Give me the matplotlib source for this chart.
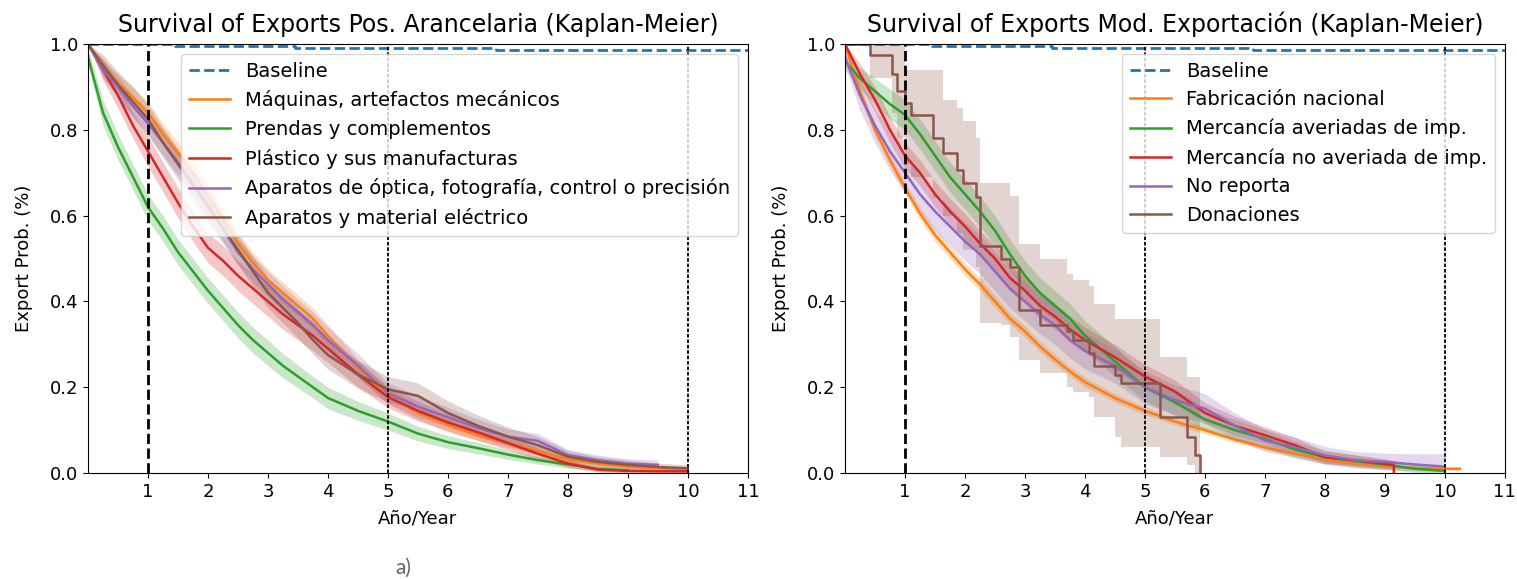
import matplotlib
matplotlib.use('Agg')
import matplotlib.pyplot as plt

# Años (rejilla común)
anios = [0, 0.25, 0.5, 0.75, 1, 1.25, 1.5, 1.75, 2, 2.25, 2.5, 2.75, 3, 3.25, 3.5,
         3.75, 4, 4.5, 5, 5.5, 6, 6.5, 7, 7.5, 8, 8.5, 9, 9.5, 10, 10.25]

# Baseline (igual en ambos paneles)
base_t = [0, 1.45, 3.45, 6.8, 11]
base_s = [1.0, 0.996, 0.991, 0.987, 0.983]

# ---- Panel izquierdo: posición arancelaria ----
maquinas = [1.0, 0.95, 0.91, 0.875, 0.84, 0.79, 0.745, 0.70, 0.645, 0.59, 0.535, 0.49, 0.45, 0.42, 0.39,
            0.36, 0.32, 0.245, 0.18, 0.14, 0.112, 0.088, 0.07, 0.052, 0.032, 0.022, 0.015, 0.011, 0.006]
maquinas_lo = [1.0, 0.935, 0.89, 0.85, 0.815, 0.765, 0.72, 0.675, 0.62, 0.565, 0.51, 0.465, 0.425, 0.395, 0.365,
               0.335, 0.295, 0.225, 0.162, 0.124, 0.098, 0.076, 0.059, 0.042, 0.024, 0.015, 0.009, 0.006, 0.002]
maquinas_hi = [1.0, 0.965, 0.93, 0.90, 0.865, 0.815, 0.77, 0.725, 0.67, 0.615, 0.56, 0.515, 0.475, 0.445, 0.415,
               0.385, 0.345, 0.265, 0.198, 0.156, 0.126, 0.1, 0.081, 0.062, 0.04, 0.029, 0.021, 0.016, 0.01]

prendas = [0.97, 0.84, 0.76, 0.69, 0.62, 0.57, 0.515, 0.47, 0.425, 0.385, 0.345, 0.31, 0.28, 0.25, 0.225,
           0.20, 0.175, 0.145, 0.12, 0.092, 0.072, 0.058, 0.043, 0.03, 0.02, 0.01, 0.006]
prendas_lo = [0.95, 0.81, 0.73, 0.66, 0.59, 0.54, 0.485, 0.44, 0.395, 0.355, 0.315, 0.28, 0.25, 0.222, 0.198,
              0.175, 0.15, 0.123, 0.1, 0.075, 0.057, 0.045, 0.032, 0.021, 0.012, 0.004, 0.001]
prendas_hi = [0.99, 0.87, 0.79, 0.72, 0.65, 0.60, 0.545, 0.50, 0.455, 0.415, 0.375, 0.34, 0.31, 0.278, 0.252,
              0.225, 0.2, 0.167, 0.14, 0.109, 0.087, 0.071, 0.054, 0.039, 0.028, 0.016, 0.011]

plastico = [1.0, 0.94, 0.88, 0.81, 0.75, 0.69, 0.63, 0.575, 0.525, 0.495, 0.46, 0.43, 0.40, 0.37, 0.345,
            0.32, 0.29, 0.23, 0.177, 0.145, 0.118, 0.095, 0.07, 0.045, 0.022, 0.008, 0.005, 0.004, 0.004]
plastico_lo = [1.0, 0.915, 0.85, 0.78, 0.715, 0.655, 0.595, 0.54, 0.49, 0.46, 0.425, 0.395, 0.365, 0.335, 0.31,
               0.285, 0.258, 0.2, 0.152, 0.122, 0.097, 0.076, 0.054, 0.032, 0.013, 0.003, 0.001, 0.0, 0.0]
plastico_hi = [1.0, 0.965, 0.91, 0.84, 0.785, 0.725, 0.665, 0.61, 0.56, 0.53, 0.495, 0.465, 0.435, 0.405, 0.38,
               0.355, 0.322, 0.26, 0.202, 0.168, 0.139, 0.114, 0.086, 0.058, 0.031, 0.013, 0.009, 0.008, 0.008]

optica = [1.0, 0.94, 0.90, 0.855, 0.815, 0.77, 0.725, 0.675, 0.625, 0.57, 0.515, 0.475, 0.44, 0.405, 0.375,
          0.345, 0.31, 0.25, 0.186, 0.155, 0.13, 0.105, 0.085, 0.075, 0.042, 0.03, 0.022, 0.019]
optica_lo = [1.0, 0.92, 0.875, 0.83, 0.785, 0.74, 0.695, 0.645, 0.595, 0.54, 0.485, 0.445, 0.41, 0.375, 0.345,
             0.315, 0.28, 0.222, 0.162, 0.13, 0.107, 0.085, 0.067, 0.058, 0.029, 0.018, 0.011, 0.009]
optica_hi = [1.0, 0.96, 0.925, 0.88, 0.845, 0.80, 0.755, 0.705, 0.655, 0.60, 0.545, 0.505, 0.47, 0.435, 0.405,
             0.375, 0.34, 0.278, 0.21, 0.18, 0.153, 0.125, 0.103, 0.092, 0.055, 0.042, 0.033, 0.03]

electrico = [1.0, 0.95, 0.905, 0.865, 0.825, 0.77, 0.72, 0.67, 0.62, 0.57, 0.52, 0.47, 0.42, 0.385, 0.35,
             0.31, 0.275, 0.23, 0.195, 0.18, 0.14, 0.11, 0.085, 0.065, 0.038, 0.026, 0.019, 0.014, 0.011]
electrico_lo = [1.0, 0.925, 0.875, 0.83, 0.79, 0.735, 0.685, 0.635, 0.585, 0.535, 0.485, 0.435, 0.385, 0.35, 0.315,
                0.277, 0.242, 0.198, 0.165, 0.15, 0.112, 0.085, 0.063, 0.045, 0.024, 0.014, 0.008, 0.005, 0.003]
electrico_hi = [1.0, 0.975, 0.935, 0.90, 0.86, 0.805, 0.755, 0.705, 0.655, 0.605, 0.555, 0.505, 0.455, 0.42, 0.385,
                0.343, 0.308, 0.262, 0.225, 0.21, 0.168, 0.135, 0.107, 0.085, 0.052, 0.038, 0.03, 0.023, 0.019]

# ---- Panel derecho: modalidad de exportación ----
fabricacion = [1.0, 0.89, 0.80, 0.73, 0.665, 0.605, 0.555, 0.515, 0.475, 0.44, 0.40, 0.36, 0.33, 0.295, 0.265,
               0.237, 0.212, 0.175, 0.145, 0.12, 0.10, 0.078, 0.06, 0.045, 0.031, 0.022, 0.016, 0.012, 0.01, 0.01]
fabricacion_lo = [1.0, 0.875, 0.785, 0.715, 0.65, 0.59, 0.54, 0.50, 0.46, 0.425, 0.386, 0.347, 0.317, 0.283, 0.253,
                  0.226, 0.201, 0.165, 0.136, 0.112, 0.092, 0.071, 0.054, 0.04, 0.026, 0.018, 0.012, 0.008, 0.006, 0.006]
fabricacion_hi = [1.0, 0.905, 0.815, 0.745, 0.68, 0.62, 0.57, 0.53, 0.49, 0.455, 0.414, 0.373, 0.343, 0.307, 0.277,
                  0.248, 0.223, 0.185, 0.154, 0.128, 0.108, 0.085, 0.066, 0.05, 0.036, 0.026, 0.02, 0.016, 0.014, 0.014]

averiadas = [0.96, 0.92, 0.89, 0.86, 0.835, 0.79, 0.74, 0.69, 0.65, 0.61, 0.565, 0.51, 0.46, 0.42, 0.39,
             0.36, 0.32, 0.26, 0.20, 0.165, 0.125, 0.10, 0.08, 0.055, 0.037, 0.028, 0.02, 0.01, 0.005]
averiadas_lo = [0.94, 0.895, 0.86, 0.825, 0.80, 0.755, 0.705, 0.655, 0.615, 0.575, 0.53, 0.475, 0.425, 0.385, 0.355,
                0.325, 0.285, 0.225, 0.168, 0.135, 0.098, 0.076, 0.058, 0.036, 0.021, 0.014, 0.008, 0.002, 0.0]
averiadas_hi = [0.98, 0.945, 0.92, 0.895, 0.87, 0.825, 0.775, 0.725, 0.685, 0.645, 0.60, 0.545, 0.495, 0.455, 0.425,
                0.395, 0.355, 0.295, 0.232, 0.195, 0.152, 0.124, 0.102, 0.074, 0.053, 0.042, 0.032, 0.02, 0.012]

# la curva "no averiada" cae a cero hacia 9.15 años
no_averiada_t = [0, 0.25, 0.5, 0.75, 1, 1.25, 1.5, 1.75, 2, 2.25, 2.5, 2.75, 3, 3.25, 3.5,
                 3.75, 4, 4.5, 5, 5.5, 6, 6.5, 7, 7.5, 8, 8.5, 9, 9.15, 9.15]
no_averiada = [1.0, 0.93, 0.87, 0.80, 0.74, 0.70, 0.65, 0.61, 0.575, 0.535, 0.50, 0.455, 0.425, 0.39, 0.365,
               0.335, 0.31, 0.27, 0.225, 0.19, 0.14, 0.11, 0.088, 0.065, 0.037, 0.03, 0.022, 0.02, 0.0]
no_averiada_lo = [1.0, 0.905, 0.84, 0.77, 0.71, 0.67, 0.62, 0.58, 0.545, 0.505, 0.47, 0.425, 0.395, 0.36, 0.335,
                  0.305, 0.28, 0.24, 0.197, 0.163, 0.116, 0.088, 0.068, 0.047, 0.023, 0.017, 0.011, 0.01, 0.0]
no_averiada_hi = [1.0, 0.955, 0.90, 0.83, 0.77, 0.73, 0.68, 0.64, 0.605, 0.565, 0.53, 0.485, 0.455, 0.42, 0.395,
                  0.365, 0.34, 0.30, 0.253, 0.217, 0.164, 0.132, 0.108, 0.083, 0.051, 0.043, 0.033, 0.03, 0.0]

no_reporta = [0.97, 0.88, 0.81, 0.75, 0.70, 0.65, 0.61, 0.575, 0.54, 0.51, 0.47, 0.43, 0.40, 0.37, 0.345,
              0.31, 0.285, 0.25, 0.20, 0.17, 0.15, 0.11, 0.076, 0.06, 0.041, 0.03, 0.026, 0.02, 0.015]
no_reporta_lo = [0.95, 0.845, 0.77, 0.705, 0.655, 0.605, 0.565, 0.53, 0.495, 0.465, 0.425, 0.385, 0.355, 0.325, 0.30,
                 0.268, 0.243, 0.21, 0.162, 0.135, 0.115, 0.08, 0.05, 0.036, 0.021, 0.012, 0.008, 0.005, 0.003]
no_reporta_hi = [0.99, 0.915, 0.85, 0.795, 0.745, 0.695, 0.655, 0.62, 0.585, 0.555, 0.515, 0.475, 0.445, 0.415, 0.39,
                 0.352, 0.327, 0.29, 0.238, 0.205, 0.185, 0.14, 0.102, 0.084, 0.062, 0.05, 0.046, 0.045, 0.045]

# Donaciones: pocos casos, escalones propios
don_t = [0, 0.42, 0.78, 0.87, 1.0, 1.1, 1.47, 1.64, 1.86, 1.97, 2.19, 2.25, 2.6, 2.75, 2.9, 3.25,
         3.7, 3.8, 4.06, 4.15, 4.5, 4.6, 5.25, 5.7, 5.84, 5.92]
donaciones = [1.0, 0.975, 0.93, 0.89, 0.862, 0.835, 0.78, 0.745, 0.706, 0.675, 0.644, 0.53, 0.50, 0.48, 0.38, 0.345,
              0.33, 0.31, 0.28, 0.25, 0.228, 0.21, 0.13, 0.084, 0.041, 0.0]
donaciones_lo = [1.0, 0.92, 0.84, 0.78, 0.72, 0.69, 0.64, 0.60, 0.56, 0.52, 0.48, 0.35, 0.345, 0.318, 0.263, 0.233,
                 0.20, 0.19, 0.177, 0.13, 0.084, 0.06, 0.037, 0.018, 0.0, 0.0]
donaciones_hi = [1.0, 1.0, 1.0, 1.0, 0.94, 0.94, 0.94, 0.87, 0.85, 0.82, 0.78, 0.675, 0.675, 0.645, 0.535, 0.50,
                 0.465, 0.45, 0.435, 0.395, 0.36, 0.36, 0.27, 0.224, 0.224, 0.224]

colores = ['#ff7f0e', '#2ca02c', '#d62728', '#9467bd', '#8c564b']

izq = [
    ('Máquinas, artefactos mecánicos', anios[:len(maquinas)], maquinas, maquinas_lo, maquinas_hi, False),
    ('Prendas y complementos', anios[:len(prendas)], prendas, prendas_lo, prendas_hi, False),
    ('Plástico y sus manufacturas', anios[:len(plastico)], plastico, plastico_lo, plastico_hi, False),
    ('Aparatos de óptica, fotografía, control o precisión', anios[:len(optica)], optica, optica_lo, optica_hi, False),
    ('Aparatos y material eléctrico', anios[:len(electrico)], electrico, electrico_lo, electrico_hi, False),
]
der = [
    ('Fabricación nacional', anios[:len(fabricacion)], fabricacion, fabricacion_lo, fabricacion_hi, False),
    ('Mercancía averiadas de imp.', anios[:len(averiadas)], averiadas, averiadas_lo, averiadas_hi, False),
    ('Mercancía no averiada de imp.', no_averiada_t, no_averiada, no_averiada_lo, no_averiada_hi, False),
    ('No reporta', anios[:len(no_reporta)], no_reporta, no_reporta_lo, no_reporta_hi, False),
    ('Donaciones', don_t, donaciones, donaciones_lo, donaciones_hi, True),
]


def dibujar_panel(ax, series, titulo):
    ax.step(base_t, base_s, where='post', color='#1f77b4', ls='--', lw=2, label='Baseline')
    for (nombre, t, s, lo, hi, escalon), c in zip(series, colores):
        if escalon:
            ax.fill_between(t, lo, hi, step='post', color=c, alpha=0.25, lw=0)
            ax.step(t, s, where='post', color=c, lw=1.8, label=nombre)
        else:
            ax.fill_between(t, lo, hi, color=c, alpha=0.25, lw=0)
            ax.plot(t, s, color=c, lw=1.8, label=nombre)
    # líneas de referencia en 1, 5 y 10 años
    ax.axvline(1, color='k', ls='--', lw=2)
    ax.axvline(5, color='k', ls=(0, (2, 1)), lw=1.3)
    ax.axvline(10, color='k', ls=(0, (2, 1)), lw=1.3)
    ax.set_xlim(0, 11)
    ax.set_ylim(0, 1)
    ax.set_xticks(range(1, 12))
    ax.set_yticks([0, 0.2, 0.4, 0.6, 0.8, 1.0])
    ax.tick_params(labelsize=13)
    ax.set_title(titulo, fontsize=17, pad=9)
    ax.set_xlabel('Año/Year', fontsize=13, labelpad=6)
    ax.set_ylabel('Export Prob. (%)', fontsize=13, labelpad=12)
    ax.legend(loc='upper right', fontsize=14, labelspacing=0.5, handlelength=2.1)


fig = plt.figure(figsize=(15.17, 5.79), dpi=100)
ax1 = fig.add_axes([0.058, 0.183, 0.435, 0.741])
ax2 = fig.add_axes([0.557, 0.183, 0.435, 0.741])

dibujar_panel(ax1, izq, 'Survival of Exports Pos. Arancelaria (Kaplan-Meier)')
dibujar_panel(ax2, der, 'Survival of Exports Mod. Exportación (Kaplan-Meier)')

fig.text(0.266, 0.019, 'a)', color='#666666', fontsize=15, family='Lato',
         ha='center', va='center')

plt.savefig('out.png', dpi=100)
